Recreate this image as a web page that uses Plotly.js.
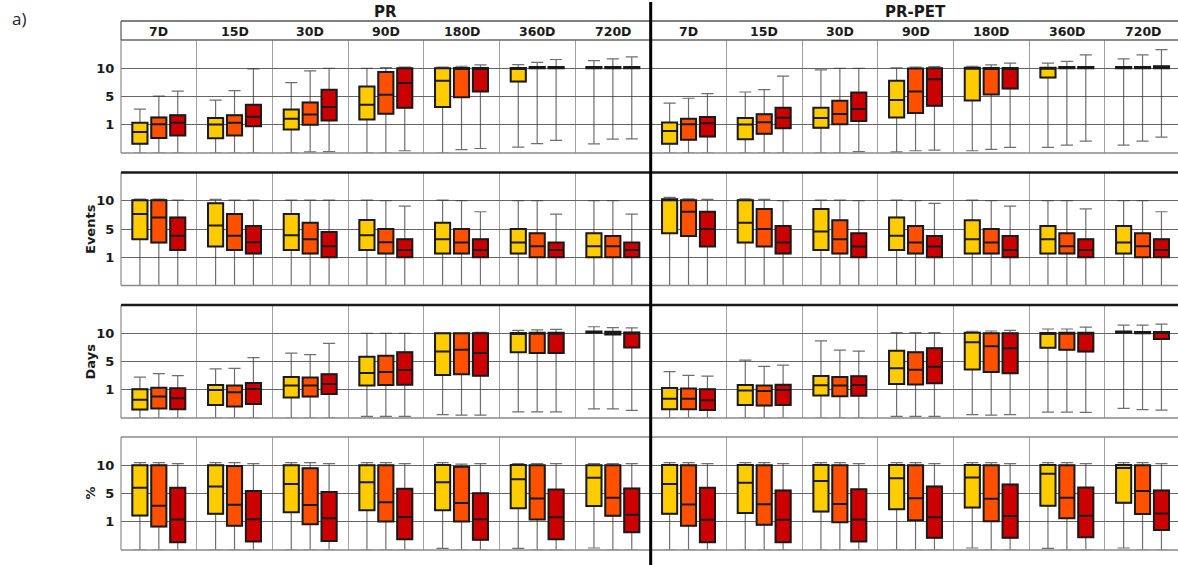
<!DOCTYPE html>
<html><head><meta charset="utf-8">
<script src="https://cdn.plot.ly/plotly-3.0.1.min.js"></script>
<style>html,body{margin:0;padding:0;background:#fff}#chart{width:1178px;height:565px}</style>
</head><body><div id="chart"></div>
<script>
// ---------------- DATA ----------------
const groups = ['PR', 'PR-PET'];
const periods = ['7D', '15D', '30D', '90D', '180D', '360D', '720D'];
const rowTitles = ['', 'Events', 'Days', '%'];
const seriesColors = ['#FFCC00', '#FF5000', '#CC0000'];
const tickValues = [1, 5, 10];

// Each array: [series][14 values] = PR 7D..720D, then PR-PET 7D..720D
// Row 1 (top, unlabelled)
const r1_lo = [
  [0,0,0,0,0,0.21,0.32, 0,0,0,0.04,0.08,0.2,0.28],
  [0,0,0.04,0,0.12,0.33,0.49, 0,0,0,0.08,0.13,0.28,0.42],
  [0,0,0.05,0.08,0.16,0.45,0.5, 0,0,0.05,0.1,0.2,0.42,0.56]];
const r1_q1 = [
  [0.33,0.52,0.835,1.76,3.5,7.65,10.0, 0.33,0.49,0.89,2.04,4.44,8.35,10.0],
  [0.53,0.62,1.0,2.56,4.9,10.0,10.0, 0.47,0.68,1.08,2.68,5.35,10.0,10.0],
  [0.62,0.95,1.6,3.4,5.9,10.0,10.0, 0.58,0.88,1.52,3.68,6.4,10.0,10.0]];
const r1_med = [
  [0.74,1.04,1.84,3.84,7.8,10.0,10.1, 0.78,1.04,1.96,4.52,9.9,10.0,10.1],
  [1.08,1.28,2.46,5.3,10.0,10.1,10.1, 1.08,1.37,2.52,5.9,10.0,10.1,10.1],
  [1.28,2.12,3.5,7.4,10.0,10.1,10.1, 1.2,2.0,3.24,8.05,10.0,10.1,10.2]];
const r1_q3 = [
  [1.28,1.96,3.16,6.75,10.0,10.05,10.2, 1.32,1.96,3.4,7.8,10.1,10.1,10.2],
  [2.04,2.36,4.16,9.35,10.05,10.2,10.2, 1.84,2.5,4.4,9.95,10.05,10.2,10.2],
  [2.36,3.84,6.2,10.0,10.05,10.2,10.2, 2.08,3.4,5.7,10.0,10.05,10.2,10.35]];
const r1_hi = [
  [3.2,4.48,7.45,10.0,10.2,10.65,11.35, 4.05,5.8,9.7,10.05,10.35,10.9,11.65],
  [5.05,6.05,9.55,10.1,10.35,11.05,11.65, 4.75,6.2,10.0,10.2,10.6,11.2,12.35],
  [5.95,9.9,10.0,10.2,10.6,11.55,12.0, 5.5,8.6,10.0,10.3,10.9,12.35,13.3]];

// Row 2 (Events)
const r2_lo = [
  [0,0,0,0,0,0,0, 0,0,0,0,0,0,0],
  [0,0,0,0,0,0,0, 0,0,0,0,0,0,0],
  [0,0,0,0,0,0,0, 0,0,0,0,0,0,0]];
const r2_q1 = [
  [3.56,2.52,2.04,2.04,1.52,1.52,1.0, 4.4,3.08,2.04,2.04,1.52,1.52,1.52],
  [3.08,2.04,1.52,1.52,1.52,1.0,1.0, 4.0,2.52,1.52,1.52,1.52,1.52,1.0],
  [2.04,1.52,1.0,1.0,1.0,1.0,1.0, 2.52,1.52,1.0,1.0,1.0,1.0,1.0]];
const r2_med = [
  [7.65,5.6,4.12,4.12,3.56,3.08,2.56, 10.1,6.1,4.64,4.04,3.56,3.56,3.08],
  [7.05,4.04,3.56,3.12,3.08,2.56,2.56, 8.05,5.0,3.56,3.08,3.08,2.56,2.56],
  [4.04,3.12,2.56,2.04,2.04,2.04,2.04, 5.0,3.08,2.52,2.52,2.04,2.04,2.04]];
const r2_q3 = [
  [10.1,9.55,7.65,6.6,6.1,5.0,4.4, 10.25,10.1,8.55,7.05,6.55,5.55,5.55],
  [10.1,7.65,6.1,5.0,5.0,4.4,4.0, 10.1,8.55,6.55,5.55,5.0,4.4,4.4],
  [7.05,5.55,4.56,3.56,3.56,3.08,3.08, 8.05,5.55,4.4,4.0,4.0,3.56,3.56]];
const r2_hi = [
  [10.3,10.25,10.1,10.1,10.1,10.0,10.0, 10.6,10.35,10.1,10.1,10.1,10.0,10.0],
  [10.3,10.1,10.1,10.0,10.0,10.0,10.0, 10.35,10.25,10.1,10.0,10.0,10.0,10.0],
  [10.1,10.1,10.1,9.05,8.05,7.65,7.65, 10.25,10.0,10.0,9.55,9.05,8.55,8.05]];

// Row 3 (Days)
const r3_lo = [
  [0,0,0,0.06,0.12,0.22,0.32, 0,0,0,0.06,0.12,0.21,0.34],
  [0,0,0,0.06,0.1,0.22,0.32, 0,0,0,0.06,0.1,0.21,0.3],
  [0,0,0,0.06,0.1,0.22,0.27, 0,0,0,0.06,0.12,0.2,0.28]];
const r3_q1 = [
  [0.30,0.46,0.73,1.6,3.08,6.65,10.1, 0.31,0.46,0.8,1.8,3.88,7.45,10.1],
  [0.34,0.41,0.76,1.68,3.2,6.5,9.8, 0.31,0.44,0.77,1.76,3.52,7.1,10.0],
  [0.31,0.5,0.85,1.72,3.0,6.5,7.5, 0.28,0.46,0.79,1.92,3.32,6.75,9.0]];
const r3_med = [
  [0.65,0.99,1.6,3.36,6.75,10.0,10.2, 0.68,0.97,1.64,4.04,8.4,10.05,10.2],
  [0.76,0.91,1.6,3.52,7.1,10.1,10.0, 0.68,0.96,1.6,3.84,7.7,10.1,10.1],
  [0.70,1.12,1.8,3.8,6.5,10.1,10.15, 0.63,0.99,1.68,4.24,7.35,10.1,10.2]];
const r3_q3 = [
  [1.08,1.68,2.8,5.85,10.0,10.05,10.3, 1.24,1.68,2.96,6.9,10.1,10.05,10.3],
  [1.28,1.6,2.72,6.0,10.0,10.1,10.25, 1.16,1.6,2.8,6.65,10.0,10.1,10.2],
  [1.2,1.96,3.2,6.65,10.0,10.1,10.15, 1.08,1.72,2.92,7.35,10.0,10.1,10.2]];
const r3_hi = [
  [2.8,3.96,6.5,10.0,10.0,10.5,11.15, 3.56,5.25,8.65,10.1,10.35,10.75,11.45],
  [3.28,4.04,6.2,10.0,10.0,10.6,11.0, 3.04,4.32,7.0,10.1,10.4,10.75,11.45],
  [3.0,5.7,8.2,10.0,10.15,10.7,10.95, 2.92,4.48,6.85,10.1,10.5,11.1,11.6]];

// Row 4 (%)
const r4_lo = [
  [0,0,0,0,0.06,0.06,0.07, 0,0,0,0,0.07,0.06,0.07],
  [0,0,0,0,0,0,0, 0,0,0,0,0,0,0],
  [0,0,0,0,0,0,0, 0,0,0,0,0,0,0]];
const r4_q1 = [
  [1.88,2.12,2.36,2.64,2.64,2.92,3.24, 2.12,2.24,2.44,2.76,3.0,3.28,3.68],
  [0.83,0.86,0.91,1.04,1.04,1.32,1.84, 0.86,0.89,0.98,1.2,1.08,1.48,2.08],
  [0.27,0.3,0.32,0.38,0.36,0.38,0.63, 0.27,0.27,0.3,0.43,0.43,0.45,0.71]];
const r4_med = [
  [6.0,6.25,6.7,7.0,7.0,7.5,7.8, 6.7,6.9,7.2,7.7,7.85,8.5,9.5],
  [3.28,3.4,3.36,3.76,3.64,4.28,4.4, 3.44,3.48,3.52,4.32,4.24,4.4,5.45],
  [1.32,1.36,1.48,1.68,1.36,1.64,2.0, 1.28,1.28,1.32,1.64,1.8,1.84,2.16]];
const r4_q3 = [
  [10.0,10.0,10.0,10.0,10.05,10.05,10.0, 10.05,10.05,10.05,10.05,10.05,10.05,10.05],
  [10.0,9.85,9.45,10.0,9.75,10.0,10.0, 10.0,10.0,10.0,10.0,10.0,10.0,10.0],
  [6.0,5.45,5.25,5.85,5.05,5.7,5.9, 6.0,5.55,5.75,6.25,6.6,6.05,5.55]];
const r4_hi = [
  [10.45,10.45,10.45,10.45,10.45,10.3,10.3, 10.45,10.45,10.45,10.45,10.45,10.45,10.45],
  [10.45,10.45,10.45,10.45,10.2,10.3,10.3, 10.45,10.45,10.45,10.45,10.45,10.45,10.45],
  [10.3,10.3,10.3,10.3,10.3,10.3,10.3, 10.3,10.3,10.3,10.3,10.3,10.3,10.3]];

// ---------------- SCALE ----------------
// axis scale: 0..1 linear, 1..5, 5..10 and beyond each take one equal step
function toT(v) {
  if (v <= 1) return v;
  if (v <= 5) return 1 + (v - 1) / 4;
  if (v <= 10) return 2 + (v - 5) / 5;
  return 3 + (v - 10) / 5;
}

const rowsData = [
  [r1_lo, r1_q1, r1_med, r1_q3, r1_hi],
  [r2_lo, r2_q1, r2_med, r2_q3, r2_hi],
  [r3_lo, r3_q1, r3_med, r3_q3, r3_hi],
  [r4_lo, r4_q1, r4_med, r4_q3, r4_hi]];

// ---------------- LAYOUT ----------------
const W = 1178, H = 565, X0 = 121, CELL = 75.67;
const rowsPx = [[40, 153], [172.5, 285.5], [305, 418], [437, 550]];
const px = x => x / W, py = y => 1 - y / H;
const BOLD = {family: 'DejaVu Sans', weight: 'bold', color: '#1a1a1a'};
const b = t => '<b>' + t + '</b>';

const layout = {
  width: W, height: H, margin: {l: 0, r: 0, t: 0, b: 0},
  paper_bgcolor: '#fff', plot_bgcolor: 'rgba(0,0,0,0)',
  showlegend: false, boxmode: 'overlay', shapes: [], annotations: []
};
function line(x0, y0, x1, y1, color, w, xref) {
  layout.shapes.push({type: 'line', xref: xref || 'paper', yref: 'paper',
    x0: xref ? x0 : px(x0), x1: xref ? x1 : px(x1), y0: py(y0), y1: py(y1),
    line: {color: color, width: w}});
}

rowsPx.forEach((r, i) => {
  const s = i === 0 ? '' : String(i + 1);
  layout['xaxis' + s] = {domain: [px(X0), 1], range: [0, (W - X0) / CELL], anchor: 'y' + s,
    showgrid: true, gridcolor: '#a0a0a0', gridwidth: 1, tick0: 0, dtick: 1,
    showticklabels: false, ticks: '', zeroline: false, showline: false, fixedrange: true};
  layout['yaxis' + s] = {domain: [py(r[1]), py(r[0])], range: [0, 4], anchor: 'x' + s,
    tickmode: 'array', tickvals: tickValues.map(toT), ticktext: tickValues.map(v => b(v)),
    showgrid: true, gridcolor: '#666', gridwidth: 1, zeroline: false, showline: false,
    ticks: 'outside', ticklen: 3, tickcolor: 'rgba(0,0,0,0)',
    tickfont: Object.assign({size: 13}, BOLD), fixedrange: true};
  // frame lines
  line(X0, r[1], W, r[1], '#8a8a8a', 1.5);
  line(X0, r[0], X0, r[1], '#8a8a8a', 1.2);
  if (i === 1 || i === 2) line(X0, r[0], W, r[0], '#1a1a1a', 2.5);
  if (i === 3) line(X0, r[0], W, r[0], '#8a8a8a', 1.5);
  if (rowTitles[i]) layout.annotations.push({xref: 'paper', yref: 'paper', x: px(90), y: py((r[0] + r[1]) / 2),
    text: b(rowTitles[i]), showarrow: false, textangle: -90, xanchor: 'center', yanchor: 'middle',
    font: Object.assign({size: 13}, BOLD)});
});
// header box
line(X0, 21, W, 21, '#555', 1.5);
line(X0, 40, W, 40, '#666', 1.5);
line(X0, 21, X0, 40, '#555', 1.2);
// panel divider
layout.shapes.push({type: 'line', xref: 'x', yref: 'paper', x0: 7, x1: 7, y0: 0, y1: py(2),
  line: {color: '#000', width: 3}});

groups.forEach((g, gi) => {
  layout.annotations.push({xref: 'x', yref: 'paper', x: gi * 7 + 3.5, y: py(12), text: b(g),
    showarrow: false, xanchor: 'center', yanchor: 'middle', font: Object.assign({size: 15}, BOLD)});
  periods.forEach((p, k) => {
    layout.annotations.push({xref: 'x', yref: 'paper', x: gi * 7 + k + 0.5, y: py(31), text: b(p),
      showarrow: false, xanchor: 'center', yanchor: 'middle', font: Object.assign({size: 12.5}, BOLD)});
  });
});
layout.annotations.push({xref: 'paper', yref: 'paper', x: px(10), y: py(18), text: 'a)',
  showarrow: false, xanchor: 'left', yanchor: 'middle', font: {family: 'Open Sans', size: 17, color: '#222'}});

// ---------------- TRACES ----------------
const traces = [];
rowsData.forEach((rd, i) => {
  const s = i === 0 ? '' : String(i + 1);
  const [lo, q1, med, q3, hi] = rd;
  seriesColors.forEach((col, si) => {
    const xs = [];
    groups.forEach((g, gi) => periods.forEach((p, k) => xs.push(gi * 7 + k + (si + 1) / 4)));
    const T = a => a[si].map(toT);
    // whiskers (grey)
    traces.push({type: 'box', x: xs, q1: T(q1), median: T(med), q3: T(q3),
      lowerfence: T(lo), upperfence: T(hi), width: 0.2, whiskerwidth: 0.8,
      line: {color: 'rgba(50,50,50,0.7)', width: 1.2}, fillcolor: 'rgba(0,0,0,0)',
      boxpoints: false, hoverinfo: 'skip', xaxis: 'x' + s, yaxis: 'y' + s});
    // boxes
    traces.push({type: 'box', x: xs, q1: T(q1), median: T(med), q3: T(q3),
      lowerfence: T(q1), upperfence: T(q3), width: 0.2, whiskerwidth: 0,
      line: {color: '#1a1a1a', width: 2}, fillcolor: col,
      boxpoints: false, xaxis: 'x' + s, yaxis: 'y' + s});
  });
});

Plotly.newPlot('chart', traces, layout, {staticPlot: true, displayModeBar: false});
</script></body></html>
